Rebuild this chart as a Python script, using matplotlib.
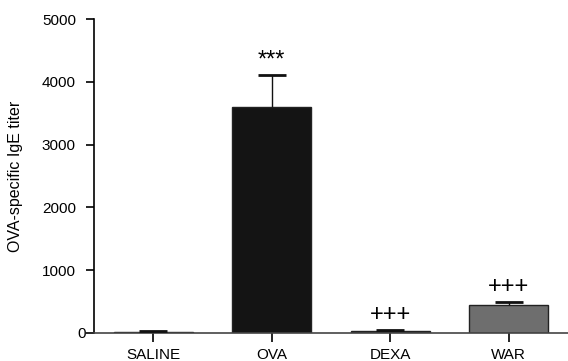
import matplotlib
matplotlib.use("Agg")
import matplotlib.pyplot as plt
from matplotlib.transforms import ScaledTranslation

plt.rc('font', family='Liberation Sans')

groups = ["SALINE", "OVA", "DEXA", "WAR"]
titer = [20, 3600, 25, 440]
sem = [10, 510, 30, 60]
colors = ["white", "#141414", "#1e1e1e", "#6e6e6e"]
marks = ["", "***", "+++", "+++"]

fig = plt.figure(figsize=(5.68, 3.61), dpi=100)
ax = fig.add_axes([0.1655, 0.0776, 0.8345, 0.8697])

x = range(len(groups))
ax.bar(x, titer, width=0.67, color=colors, edgecolor="#222222", linewidth=1.0, zorder=2)
# upper error bars only
eb = ax.errorbar(x, titer, yerr=[[0] * len(sem), sem], fmt="none", ecolor="#111111",
                 elinewidth=1.0, capsize=10, capthick=2.0, zorder=3)
eb[1][0].set_visible(False)

# significance marks above the error bars
for i, m in enumerate(marks):
    if m:
        ax.text(i, titer[i] + sem[i] + 60, m, ha="center", va="bottom", fontsize=17)

ax.set_xlim(-0.5, 3.5)
ax.set_ylim(0, 5000)
ax.set_yticks([0, 1000, 2000, 3000, 4000, 5000])
ax.set_xticks(list(x))
ax.set_xticklabels(groups, fontsize=11)
ax.tick_params(axis="y", labelsize=11, length=6, width=1.2, direction="out", pad=7)
ax.tick_params(axis="x", length=6.5, width=1.2, direction="out", pad=4)
ax.set_ylabel("OVA-specific IgE titer", fontsize=11.5, labelpad=14)

# the zero label sits closer to the axis in the original
zero = ax.get_yticklabels()[0]
zero.set_transform(zero.get_transform() + ScaledTranslation(0.1, 0, fig.dpi_scale_trans))

ax.spines["top"].set_visible(False)
ax.spines["right"].set_visible(False)
ax.spines["left"].set_linewidth(1.2)
ax.spines["bottom"].set_linewidth(1.2)
ax.spines["bottom"].set_color("#444444")

fig.savefig("out.png", dpi=100)
print("Done!")
